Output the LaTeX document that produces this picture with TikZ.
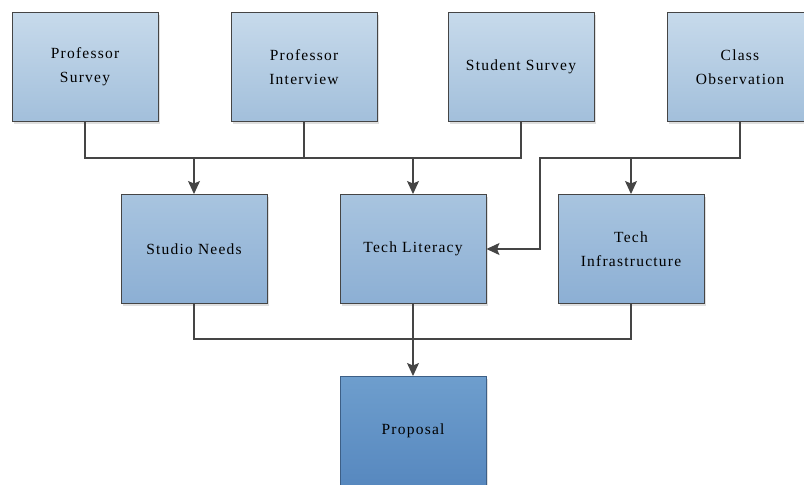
\documentclass[tikz,border=0pt]{standalone}
\usepackage{fontspec}
\setmainfont{Liberation Serif}[LetterSpace=8]
\usetikzlibrary{arrows.meta,shadows}
\definecolor{linegray}{HTML}{454545}
\definecolor{srctop}{HTML}{C7DAEB}
\definecolor{srcbot}{HTML}{A2BFDB}
\definecolor{midtop}{HTML}{A8C4DF}
\definecolor{midbot}{HTML}{8CAFD4}
\definecolor{proptop}{HTML}{6E9ECD}
\definecolor{propbot}{HTML}{5788BF}
\begin{document}
\begin{tikzpicture}[x=1pt, y=-1pt,
    box/.style={draw=linegray, line width=1pt, minimum width=146pt, minimum height=109pt,
        align=center, font=\fontsize{15.5}{24}\selectfont, inner sep=0pt,
        drop shadow={shadow xshift=2pt, shadow yshift=-2pt, opacity=0.25}},
    srcbox/.style={box, top color=srctop, bottom color=srcbot},
    midbox/.style={box, top color=midtop, bottom color=midbot},
    propbox/.style={box, draw=propbot!70!black, top color=proptop, bottom color=propbot},
    link/.style={draw=linegray, line width=1.1pt},
    arr/.style={link, -{Stealth[length=13pt, width=12pt, inset=2.5pt]}}]
    \useasboundingbox (0,0) rectangle (804,485);
    % Sources
    \node[srcbox] (ps) at (85,67) {Professor\\Survey};
    \node[srcbox] (pi) at (304,67) {Professor\\Interview};
    \node[srcbox] (ss) at (521,67) {Student Survey};
    \node[srcbox] (co) at (740,67) {Class\\Observation};
    % Findings
    \node[midbox] (sn) at (194,249) {Studio Needs};
    \node[midbox] (tl) at (413,249) {Tech Literacy};
    \node[midbox] (ti) at (631,249) {Tech\\Infrastructure};
    % Result
    \node[propbox] (pr) at (413,431) {Proposal};
    % Connector rows
    \coordinate (bus1) at (0,158);
    \coordinate (bus2) at (0,339);
    \coordinate (bend) at (540,0);
    \draw[link] (ps.south) -- (ps.south |- bus1) -- (ss.south |- bus1) -- (ss.south);
    \draw[link] (pi.south) -- (pi.south |- bus1);
    \draw[arr] (sn.north |- bus1) -- (sn.north);
    \draw[arr] (tl.north |- bus1) -- (tl.north);
    \draw[arr] (co.south) -- (co.south |- bus1) -- (bend |- bus1) -- (bend |- tl.east) -- (tl.east);
    \draw[arr] (ti.north |- bus1) -- (ti.north);
    \draw[link] (sn.south) -- (sn.south |- bus2) -- (ti.south |- bus2) -- (ti.south);
    \draw[arr] (tl.south) -- (pr.north);
\end{tikzpicture}
\end{document}
